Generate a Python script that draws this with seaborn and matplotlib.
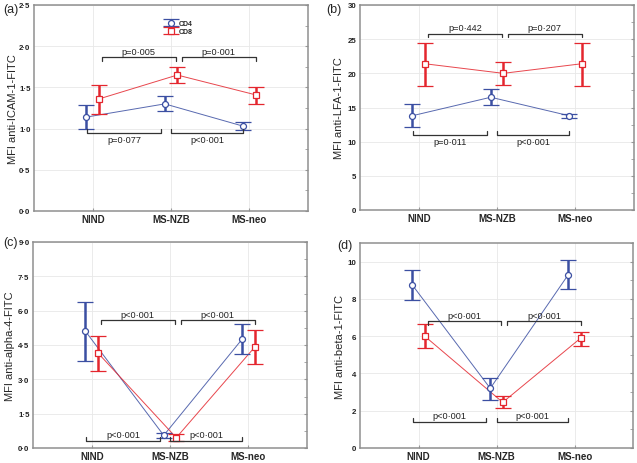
"""
Four-panel MFI plot (CD4 vs CD8 across NIND / MS-NZB / MS-neo).
"""
import matplotlib
matplotlib.use("Agg")
import matplotlib.pyplot as plt
from matplotlib.ticker import MultipleLocator
import pandas as pd
import seaborn as sns

GROUPS = ["NIND", "MS-NZB", "MS-neo"]
CELLS  = ["CD4", "CD8"]
COLORS = {"CD4": "#3b4fa2", "CD8": "#e4262e"}
MARKERS = {"CD4": "o", "CD8": "s"}

# (a) ICAM-1
icam_cd4    = [1.14, 1.30, 1.03]
icam_cd4_lo = [0.99, 1.21, 0.98]
icam_cd4_hi = [1.29, 1.39, 1.08]
icam_cd8    = [1.36, 1.65, 1.41]
icam_cd8_lo = [1.18, 1.55, 1.30]
icam_cd8_hi = [1.53, 1.75, 1.51]
icam_p_top  = ["p=0·005", "p=0·001"]
icam_p_bot  = ["p=0·077", "p<0·001"]
icam_ticks  = [0.0, 0.5, 1.0, 1.5, 2.0, 2.5]
icam_labels = ["0·0", "0·5", "1·0", "1·5", "2·0", "2·5"]

# (b) LFA-1
lfa_cd4    = [13.8, 16.5, 13.8]
lfa_cd4_lo = [12.1, 15.3, 13.5]
lfa_cd4_hi = [15.5, 17.7, 14.1]
lfa_cd8    = [21.4, 20.0, 21.4]
lfa_cd8_lo = [18.2, 18.3, 18.2]
lfa_cd8_hi = [24.5, 21.7, 24.5]
lfa_p_top  = ["p=0·442", "p=0·207"]
lfa_p_bot  = ["p=0·011", "p<0·001"]
lfa_ticks  = [0, 5, 10, 15, 20, 25, 30]
lfa_labels = ["0", "5", "10", "15", "20", "25", "30"]

# (c) alpha-4
a4_cd4    = [5.10, 0.55, 4.75]
a4_cd4_lo = [3.80, 0.45, 4.10]
a4_cd4_hi = [6.40, 0.65, 5.40]
a4_cd8    = [4.15, 0.45, 4.40]
a4_cd8_lo = [3.35, 0.30, 3.65]
a4_cd8_hi = [4.90, 0.60, 5.15]
a4_p_top  = ["p<0·001", "p<0·001"]
a4_p_bot  = ["p<0·001", "p<0·001"]
a4_ticks  = [0.0, 1.5, 3.0, 4.5, 6.0, 7.5, 9.0]
a4_labels = ["0·0", "1·5", "3·0", "4·5", "6·0", "7·5", "9·0"]

# (d) beta-1
b1_cd4    = [8.75, 3.20, 9.30]
b1_cd4_lo = [7.95, 2.60, 8.55]
b1_cd4_hi = [9.55, 3.75, 10.10]
b1_cd8    = [6.00, 2.45, 5.90]
b1_cd8_lo = [5.35, 2.15, 5.50]
b1_cd8_hi = [6.65, 2.80, 6.25]
b1_p_top  = ["p<0·001", "p<0·001"]
b1_p_bot  = ["p<0·001", "p<0·001"]
b1_ticks  = [0, 2, 4, 6, 8, 10]
b1_labels = ["0", "2", "4", "6", "8", "10"]

PANELS = [
    dict(tag="(a)", ylabel="MFI anti-ICAM-1-FITC", ymax=2.5,
         rect=[34, 6, 308, 212], tagxy=(3, 10), ylab_x=-0.058,
         data={"CD4": (icam_cd4, icam_cd4_lo, icam_cd4_hi),
               "CD8": (icam_cd8, icam_cd8_lo, icam_cd8_hi)},
         p_top=icam_p_top, p_bot=icam_p_bot, y_top=1.87, y_bot=0.95,
         bot_above=False,
         ticks=icam_ticks, labels=icam_labels, legend=True),
    dict(tag="(b)", ylabel="MFI anti-LFA-1-FITC", ymax=30,
         rect=[360, 6, 634, 211], tagxy=(326, 10), ylab_x=-0.058,
         data={"CD4": (lfa_cd4, lfa_cd4_lo, lfa_cd4_hi),
               "CD8": (lfa_cd8, lfa_cd8_lo, lfa_cd8_hi)},
         p_top=lfa_p_top, p_bot=lfa_p_bot, y_top=25.8, y_bot=11.0,
         bot_above=False,
         ticks=lfa_ticks, labels=lfa_labels, legend=False),
    dict(tag="(c)", ylabel="MFI anti-alpha-4-FITC", ymax=9.0,
         rect=[33, 243, 307, 449], tagxy=(3, 243), ylab_x=-0.064,
         data={"CD4": (a4_cd4, a4_cd4_lo, a4_cd4_hi),
               "CD8": (a4_cd8, a4_cd8_lo, a4_cd8_hi)},
         p_top=a4_p_top, p_bot=a4_p_bot, y_top=5.58, y_bot=0.32,
         bot_above=True,
         ticks=a4_ticks, labels=a4_labels, legend=False),
    dict(tag="(d)", ylabel="MFI anti-beta-1-FITC", ymax=11,
         rect=[360, 244, 633, 449], tagxy=(337, 246), ylab_x=-0.055,
         data={"CD4": (b1_cd4, b1_cd4_lo, b1_cd4_hi),
               "CD8": (b1_cd8, b1_cd8_lo, b1_cd8_hi)},
         p_top=b1_p_top, p_bot=b1_p_bot, y_top=6.82, y_bot=1.42,
         bot_above=True,
         ticks=b1_ticks, labels=b1_labels, legend=False),
]

DODGE = {"CD4": -0.08, "CD8": 0.08}
TOP_SPANS = [(0.12, 1.06), (1.14, 2.08)]
BOT_SPANS = [(-0.07, 0.87), (1.0, 1.92)]

W, H = 637, 464

sns.set_style("white")
plt.rcParams["font.family"] = ["Liberation Sans", "DejaVu Sans"]


def draw_panel(fig, p):
    x0, y0, x1, y1 = p["rect"]
    ax = fig.add_axes([x0 / W, 1 - y1 / H, (x1 - x0) / W, (y1 - y0) / H])

    handles = []
    for cell in CELLS:
        mean, lo, hi = p["data"][cell]
        df = pd.DataFrame({"pos": [i + DODGE[cell] for i in range(len(GROUPS))],
                           "mfi": mean})
        c = COLORS[cell]
        sns.lineplot(data=df, x="pos", y="mfi", color=c, lw=0.7,
                     alpha=0.85, ax=ax, zorder=2, legend=False)
        yerr = [[m - l for m, l in zip(mean, lo)],
                [h - m for m, h in zip(mean, hi)]]
        eb = ax.errorbar(df["pos"], df["mfi"], yerr=yerr,
                         fmt=MARKERS[cell], ms=4.3, mfc="white", mec=c,
                         mew=0.9, ecolor=c, elinewidth=1.8, capsize=5.5,
                         capthick=1.6, zorder=3)
        handles.append(eb)

    ymax = p["ymax"]
    ax.set_xlim(-0.75, 2.75)
    ax.set_ylim(0, ymax)
    ax.set_xticks(range(len(GROUPS)))
    ax.set_xticklabels(GROUPS, fontsize=7, fontweight="bold")
    ax.set_yticks(p["ticks"])
    ax.set_yticklabels(p["labels"], fontsize=5.7, fontweight="bold",
                       color="#222222")
    ax.yaxis.set_minor_locator(MultipleLocator((p["ticks"][1] - p["ticks"][0]) / 2))
    ax.set_xlabel("")
    ax.set_ylabel(p["ylabel"], fontsize=8)
    ax.yaxis.set_label_coords(p["ylab_x"], 0.5)

    ax.grid(True, which="major", color="#e8e8e8", lw=0.6)
    ax.set_axisbelow(True)
    ax.tick_params(axis="y", which="major", left=False, right=True,
                   direction="in", length=2.5, color="#999999", pad=2.5)
    ax.tick_params(axis="y", which="minor", left=False, right=True,
                   direction="in", length=2.5, color="#999999")
    ax.tick_params(axis="x", bottom=True, direction="in", length=2,
                   color="#999999", pad=2.5)
    for s in ax.spines.values():
        s.set_color("#8f8f8f")
        s.set_linewidth(1.1)

    # significance brackets
    tick = 0.018 * ymax
    for (a, b), txt in zip(TOP_SPANS, p["p_top"]):
        y = p["y_top"]
        ax.plot([a, a, b, b], [y - tick, y, y, y - tick], color="#333333",
                lw=0.9, zorder=4)
        ax.annotate(txt, ((a + b) / 2, y), xytext=(0, 1), textcoords="offset points",
                    ha="center", va="bottom", fontsize=6.6, color="#222222")
    for (a, b), txt in zip(BOT_SPANS, p["p_bot"]):
        y = p["y_bot"]
        ax.plot([a, a, b, b], [y + tick, y, y, y + tick], color="#333333",
                lw=0.9, zorder=4)
        if p["bot_above"]:
            ax.annotate(txt, ((a + b) / 2, y), xytext=(0, 1),
                        textcoords="offset points", ha="center", va="bottom",
                        fontsize=6.6, color="#222222")
        else:
            ax.annotate(txt, ((a + b) / 2, y), xytext=(0, -1.5),
                        textcoords="offset points", ha="center", va="top",
                        fontsize=6.6, color="#222222")

    if p["legend"]:
        ax.legend(handles=handles, labels=CELLS, loc="center",
                  bbox_to_anchor=(0.53, 0.89), frameon=False,
                  prop={"size": 5, "weight": "bold"}, handlelength=1.6,
                  handletextpad=0.4, labelspacing=0.15, borderpad=0)

    tx, ty = p["tagxy"]
    fig.text(tx / W, 1 - ty / H, p["tag"], fontsize=9, ha="left", va="center")


fig = plt.figure(figsize=(W / 100, H / 100), dpi=100)
for panel in PANELS:
    draw_panel(fig, panel)

fig.savefig("out.png", dpi=100)
plt.close(fig)
